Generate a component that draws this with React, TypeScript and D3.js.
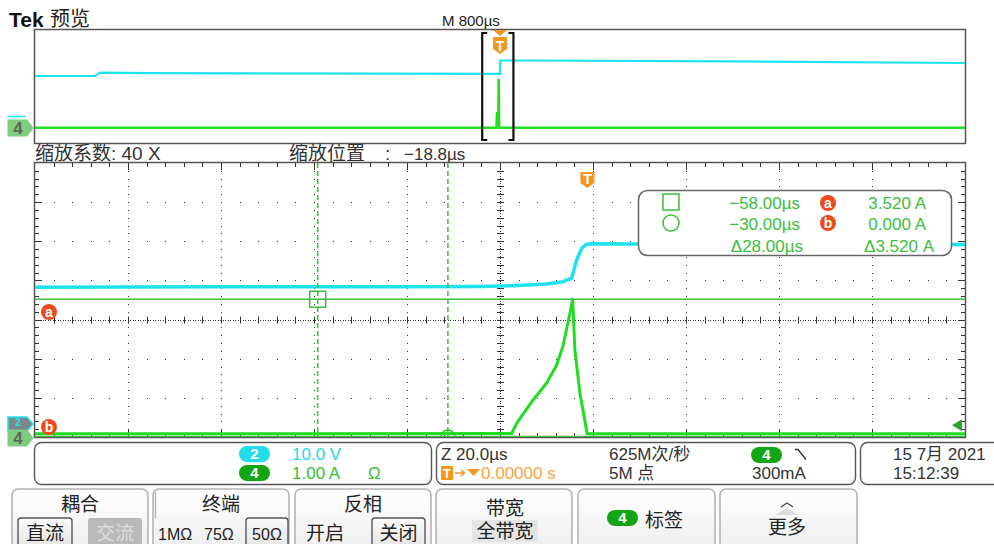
import React from "react";
import * as d3 from "d3";

// zoom window: 20 µs/div, position -18.8 µs (10 div across)
const zoomTimeRange = [-118.8, 81.2];
const ch2ZoomT = [-118.8, -80, -40, -23, -15.9, -8.75, -5.2, -3.4, -2.3, -1.2, -0.15, 1, 20, 50, 81.2];
const ch2ZoomV = [35.2, 35.3, 35.3, 35.4, 35.6, 36.0, 36.6, 37.5, 42.2, 45.2, 46.2, 46.3, 46.2, 46.2, 46.1];
const ch4ZoomT = [-118.8, -16.3, -15.23, -11.72, -8.77, -6.62, -5.27, -4.19, -3.61, -3.18, -2.69, -1.61, -0.04, 81.2];
const ch4ZoomA = [0.08, 0.09, 0.35, 0.94, 1.38, 1.84, 2.32, 2.92, 3.25, 3.52, 2.22, 1.12, 0.08, 0.08];

// overview record: 800 µs/div
const ovTimeRange = [-4000, 4000];
const ch2OvT = [-4000, -3484, -3441, -3000, -1000, -25, 0, 3, 200, 2000, 4000];
const ch2OvV = [33.2, 33.3, 36.1, 35.6, 35.2, 34.9, 34.9, 46.2, 46.2, 45.5, 44.1];
const ch4OvT = [-4000, -30, -26, -14, -11, -7, 4000];
const ch4OvA = [0.02, 0.02, 1.05, 1.05, 3.5, 0.02, 0.02];

// cursors
const cursorT = [-58, -30];
const cursorA = [3.52, 0];
const trigLevelA = 0.3;

const SANS = "'Liberation Sans', Arial, 'Noto Sans CJK SC', sans-serif";
const CJK = "'Noto Sans CJK SC', sans-serif";
const CYAN = "#1fe2ee";
const GREEN = "#22dc22";
const CUR = "#3dbd3d";
const ORANGE = "#f5961e";
const RED = "#ec4a1e";

const PL = 35, PR = 965, PT = 163, PB = 437;
const OT = 29, OB = 143;

const x = d3.scaleLinear().domain(zoomTimeRange).range([PL, PR]);
const yA = d3.scaleLinear().domain([0, 7]).range([PB, PT]);
const yV = d3.scaleLinear().domain([0, 70]).range([425, 425 - (PB - PT)]);
const xOv = d3.scaleLinear().domain(ovTimeRange).range([PL, PR]);
const yOvV = d3.scaleLinear().domain([0, 50]).range([115.5, 115.5 - 59.5]);
const yOvA = d3.scaleLinear().domain([0, 3.5]).range([128, 79]);

const fmt = (v: number, d: number) => (v < 0 ? "\u2212" : "") + Math.abs(v).toFixed(d);

function gridPath() {
  const dx = (PR - PL) / 50;
  const dy = (PB - PT) / 35;
  let d = "";
  const dot = (px: number, py: number) => {
    d += `M${Math.round(px)},${Math.round(py)}h1v1h-1z`;
  };
  for (let i = 1; i < 10; i++) {
    if (i === 5) continue;
    for (let k = 1; k < 35; k++) dot(PL + i * dx * 5, PT + k * dy);
  }
  for (let j = 1; j < 7; j++) {
    if (j === 4) continue;
    for (let k = 1; k < 50; k++) dot(PL + k * dx, PT + j * dy * 5);
  }
  const cy = PT + 4 * dy * 5;
  const cx = PL + 5 * dx * 5;
  for (let px = PL; px < PR; px += 2.5) dot(px, cy);
  for (let py = PT; py < PB; py += 2.5) dot(cx, py);
  let t = "";
  for (let k = 1; k < 50; k++) {
    const px = Math.round(PL + k * dx) + 0.5;
    t += `M${px},${cy - 3}v7`;
    const len = k % 5 === 0 ? 7 : 4;
    t += `M${px},${PT}v${len}M${px},${PB}v${-len}`;
  }
  for (let k = 1; k < 35; k++) {
    const py = Math.round(PT + k * dy) + 0.5;
    t += `M${cx - 3},${py}h7`;
    const len = k % 5 === 0 ? 7 : 4;
    t += `M${PL},${py}h${len}M${PR},${py}h${-len}`;
  }
  return { d, t };
}

const ChMarker = ({ cy, fill, stroke, label, color }: any) => (
  <g>
    <path d={`M8,${cy - 8}h19l6,8l-6,8h-19z`} fill={fill} stroke={stroke} strokeWidth={1} />
    <text x={18} y={cy + 6} textAnchor="middle" fontFamily={SANS} fontSize={17} fontWeight="bold" fill={color}>{label}</text>
  </g>
);

const Badge = ({ cx, cy, label }: any) => (
  <g>
    <circle cx={cx} cy={cy} r={8} fill={RED} />
    <text x={cx} y={cy + 5} textAnchor="middle" fontFamily={SANS} fontSize={14} fontWeight="bold" fill="#fff">{label}</text>
  </g>
);

const Pill = ({ x0, y0, fill, label }: any) => (
  <g>
    <rect x={x0} y={y0} width={31} height={16} rx={8} fill={fill} />
    <text x={x0 + 15.5} y={y0 + 13} textAnchor="middle" fontFamily={SANS} fontSize={15} fontWeight="bold" fill="#fff">{label}</text>
  </g>
);

const Button = ({ x0, w, children }: any) => (
  <g>
    <rect x={x0} y={489} width={w} height={70} rx={6} fill="url(#btnGrad)" stroke="#b4b4b4" strokeWidth={1.6} />
    {children}
  </g>
);

const SubBtn = ({ x0, w, label, on }: any) => (
  <g>
    <rect x={x0} y={518} width={w} height={34} rx={3} fill={on ? "url(#subGrad)" : "#b9b9b9"} stroke={on ? "#555" : "none"} strokeWidth={1.4} />
    <text x={x0 + w / 2} y={540} textAnchor="middle" fontFamily={SANS} fontSize={19} fill={on ? "#222" : "#dcdcdc"}>{label}</text>
  </g>
);

const T = ({ x0, y0, s, fill, anchor, children, weight }: any) => (
  <text x={x0} y={y0} fontFamily={SANS} fontSize={s} fill={fill || "#333"} textAnchor={anchor || "start"} fontWeight={weight || "normal"}>{children}</text>
);

function App() {
  const { d: dots, t: ticks } = gridPath();
  const lineV = d3.line<number>().x((_, i) => x(ch2ZoomT[i])).y((v) => yV(v));
  const lineA = d3.line<number>().x((_, i) => x(ch4ZoomT[i])).y((v) => yA(v));
  const lineOvV = d3.line<number>().x((_, i) => xOv(ch2OvT[i])).y((v) => yOvV(v));
  const lineOvA = d3.line<number>().x((_, i) => xOv(ch4OvT[i])).y((v) => yOvA(v));

  const c1x = x(cursorT[0]), c2x = x(cursorT[1]);
  const caY = yA(cursorA[0]), cbY = yA(cursorA[1]);
  const trigX = x(0);
  const trigY = yA(trigLevelA);
  const ovL = xOv(zoomTimeRange[0]) - 4, ovR = xOv(zoomTimeRange[1]) + 4;
  const ovTrig = xOv(0);

  return (
    <svg width={994} height={544} style={{ position: "absolute", left: 0, top: 0, background: "#fff" }}>
      <defs>
        <linearGradient id="btnGrad" x1="0" y1="0" x2="0" y2="1">
          <stop offset="0" stopColor="#ffffff" />
          <stop offset="1" stopColor="#ebebeb" />
        </linearGradient>
        <linearGradient id="subGrad" x1="0" y1="0" x2="0" y2="1">
          <stop offset="0" stopColor="#fafafa" />
          <stop offset="1" stopColor="#e2e2e2" />
        </linearGradient>
        <clipPath id="mainClip"><rect x={PL} y={PT} width={PR - PL} height={PB - PT} /></clipPath>
        <clipPath id="ovClip"><rect x={PL} y={OT} width={PR - PL} height={OB - OT} /></clipPath>
      </defs>

      {/* header */}
      <text x={9} y={27} fontFamily={SANS} fontSize={21} fontWeight="bold" fill="#111">Tek</text>
      <text x={50} y={26} fontFamily={CJK} fontSize={20} fill="#222">预览</text>
      <T x0={442} y0={26} s={15} fill="#222">M 800µs</T>

      {/* overview */}
      <rect x={34.5} y={OT + 0.5} width={PR - 34} height={OB - OT} fill="#fff" stroke="#555" strokeWidth={1.5} />
      <g clipPath="url(#ovClip)">
        <path d={lineOvV(ch2OvV) || ""} fill="none" stroke={CYAN} strokeWidth={2.2} />
        <path d={lineOvA(ch4OvA) || ""} fill="none" stroke={GREEN} strokeWidth={2.5} />
      </g>
      <path d={`M${ovL + 5},${OT + 4}h-5v${OB - OT - 7}h5M${ovR - 5},${OT + 4}h5v${OB - OT - 7}h-5`} fill="none" stroke="#111" strokeWidth={2.2} />
      <path d={`M${ovTrig - 7},${OT + 1}h14l-7,6z`} fill={ORANGE} />
      <path d={`M${ovTrig - 7},${OT + 8}h14v12l-7,5l-7,-5z`} fill={ORANGE} />
      <text x={ovTrig} y={OT + 22} textAnchor="middle" fontFamily={SANS} fontSize={14} fontWeight="bold" fill="#fff">T</text>
      <path d="M8,116.5h18" stroke={CYAN} strokeWidth={1.5} />
      <ChMarker cy={128} fill="#7fcb7f" stroke="#7fcb7f" label="4" color="#5a6a5a" />

      {/* zoom labels */}
      <text x={35} y={160} fontFamily={SANS} fontSize={19} fill="#333">缩放系数: 40 X</text>
      <text x={289} y={160} fontFamily={SANS} fontSize={19} fill="#333">缩放位置</text>
      <text x={385} y={160} fontFamily={SANS} fontSize={19} fill="#333">:</text>
      <text x={404} y={160} fontFamily={SANS} fontSize={17} fill="#333">−18.8µs</text>

      {/* main window */}
      <rect x={34.5} y={PT - 0.5} width={PR - 34} height={PB - PT + 1} fill="#fff" stroke="#555" strokeWidth={1.5} />
      <path d={dots} fill="#333" />
      <path d={ticks} stroke="#333" strokeWidth={1} fill="none" />

      <g clipPath="url(#mainClip)">
        <path d={lineV(ch2ZoomV) || ""} fill="none" stroke={CYAN} strokeWidth={3.5} strokeLinejoin="round" />
        <path d={lineA(ch4ZoomA) || ""} fill="none" stroke={GREEN} strokeWidth={3} strokeLinejoin="round" />
        {/* cursors */}
        <line x1={PL} x2={PR} y1={caY} y2={caY} stroke={CUR} strokeWidth={1.5} />
        <line x1={PL} x2={PR} y1={cbY - 0.5} y2={cbY - 0.5} stroke={CUR} strokeWidth={1.5} />
        <line x1={c1x} x2={c1x} y1={PT} y2={PB} stroke={CUR} strokeWidth={1.5} strokeDasharray="5,3" />
        <line x1={c2x} x2={c2x} y1={PT} y2={PB} stroke={CUR} strokeWidth={1.5} strokeDasharray="5,3" />
        <rect x={c1x - 8} y={caY - 8} width={16} height={16} fill="none" stroke={CUR} strokeWidth={1.5} />
        <circle cx={c2x} cy={cbY} r={7} fill="none" stroke={CUR} strokeWidth={1.5} />
      </g>
      <Badge cx={49} cy={312} label="a" />
      <Badge cx={49} cy={427} label="b" />
      <path d={`M${PR - 3},${trigY - 6}v12l-10,-6z`} fill="#2aa52a" />
      {/* trigger marker */}
      <path d={`M${trigX - 7},${PT + 9}h14v11l-7,5l-7,-5z`} fill={ORANGE} />
      <text x={trigX} y={PT + 21} textAnchor="middle" fontFamily={SANS} fontSize={14} fontWeight="bold" fill="#fff">T</text>

      {/* channel markers */}
      <path d="M8,417h19l6,7l-6,7h-19z" fill="#7a8a8a" stroke={CYAN} strokeWidth={1.5} />
      <text x={18} y={426} textAnchor="middle" fontFamily={SANS} fontSize={10} fontWeight="bold" fill={CYAN}>2</text>
      <ChMarker cy={438} fill="#7fcb7f" stroke="#7fcb7f" label="4" color="#5a6a5a" />

      {/* cursor readout */}
      <rect x={638.5} y={190.5} width={313} height={65} rx={9} fill="#fff" stroke="#666" strokeWidth={1.5} />
      <rect x={663} y={194} width={16} height={16} fill="none" stroke={CUR} strokeWidth={1.5} />
      <circle cx={671} cy={223} r={8} fill="none" stroke={CUR} strokeWidth={1.5} />
      <T x0={800} y0={209} s={17} fill={CUR} anchor="end">{fmt(cursorT[0], 2)}µs</T>
      <T x0={800} y0={230} s={17} fill={CUR} anchor="end">{fmt(cursorT[1], 2)}µs</T>
      <T x0={803} y0={252} s={17} fill={CUR} anchor="end">Δ{fmt(cursorT[1] - cursorT[0], 2)}µs</T>
      <Badge cx={828} cy={203} label="a" />
      <Badge cx={828} cy={223} label="b" />
      <T x0={926} y0={209} s={17} fill={CUR} anchor="end">{fmt(cursorA[0], 3)} A</T>
      <T x0={926} y0={230} s={17} fill={CUR} anchor="end">{fmt(cursorA[1], 3)} A</T>
      <T x0={934} y0={252} s={17} fill={CUR} anchor="end">Δ{fmt(cursorA[0] - cursorA[1], 3)} A</T>

      {/* info bar */}
      <rect x={34.5} y={442.5} width={397} height={42} rx={7} fill="#fff" stroke="#555" strokeWidth={1.4} />
      <Pill x0={239} y0={446} fill="#22dce8" label="2" />
      <T x0={292} y0={460} s={17} fill="#28d6e4">10.0 V</T>
      <Pill x0={239} y0={465} fill="#13a513" label="4" />
      <T x0={292} y0={479} s={17} fill="#36c036">1.00 A</T>
      <T x0={368} y0={479} s={17} fill="#36c036">Ω</T>

      <rect x={436.5} y={442.5} width={419} height={42} rx={7} fill="#fff" stroke="#555" strokeWidth={1.4} />
      <T x0={441} y0={460} s={17}>Z 20.0µs</T>
      <rect x={441} y={466} width={12} height={14} fill={ORANGE} />
      <text x={447} y={478} textAnchor="middle" fontFamily={SANS} fontSize={12} fontWeight="bold" fill="#fff">T</text>
      <path d="M455,473h9M461,470l3.5,3l-3.5,3" stroke={ORANGE} strokeWidth={1.6} fill="none" />
      <path d="M467,469h13l-6.5,7z" fill={ORANGE} />
      <T x0={481} y0={479} s={17} fill="#f7a540">0.00000 s</T>
      <T x0={609} y0={460} s={17}>625M次/秒</T>
      <T x0={609} y0={479} s={17}>5M 点</T>
      <Pill x0={751} y0={447} fill="#13a513" label="4" />
      <path d="M795,449.5h3l8,10" stroke="#333" strokeWidth={1.4} fill="none" />
      <T x0={752} y0={479} s={17}>300mA</T>

      <rect x={860.5} y={442.5} width={150} height={42} rx={7} fill="#fff" stroke="#555" strokeWidth={1.4} />
      <T x0={893} y0={460} s={17}>15 7月 2021</T>
      <T x0={893} y0={479} s={17}>15:12:39</T>

      {/* soft menu */}
      <Button x0={12} w={136}>
        <T x0={80} y0={511} s={19} anchor="middle" fill="#222">耦合</T>
        <SubBtn x0={18} w={54} label="直流" on />
        <SubBtn x0={88} w={54} label="交流" on={false} />
      </Button>
      <Button x0={153} w={136}>
        <line x1={155.5} x2={155.5} y1={492} y2={518} stroke="#b4b4b4" strokeWidth={1.4} />
        <T x0={221} y0={511} s={19} anchor="middle" fill="#222">终端</T>
        <T x0={158} y0={540} s={16} fill="#222">1MΩ</T>
        <T x0={204} y0={540} s={16} fill="#222">75Ω</T>
        <rect x={246} y={518} width={42} height={34} rx={3} fill="url(#subGrad)" stroke="#555" strokeWidth={1.4} />
        <T x0={267} y0={540} s={16} anchor="middle" fill="#222">50Ω</T>
      </Button>
      <Button x0={295} w={136}>
        <T x0={363} y0={511} s={19} anchor="middle" fill="#222">反相</T>
        <T x0={306} y0={540} s={19} fill="#222">开启</T>
        <SubBtn x0={372} w={53} label="关闭" on />
      </Button>
      <Button x0={436} w={136}>
        <T x0={505} y0={515} s={19} anchor="middle" fill="#222">带宽</T>
        <rect x={472} y={520} width={66} height={22} fill="#e4e4e4" />
        <T x0={505} y0={538} s={19} anchor="middle" fill="#222">全带宽</T>
      </Button>
      <Button x0={578} w={137}>
        <Pill x0={607} y0={510} fill="#13a513" label="4" />
        <T x0={645} y0={527} s={19} fill="#222">标签</T>
      </Button>
      <Button x0={720} w={137}>
        <path d="M781,507l6,-4l6,4" stroke="#444" strokeWidth={1.2} fill="none" />
        <path d="M775,515l12,-7l12,7z" fill="#dcdcdc" />
        <T x0={787} y0={534} s={19} anchor="middle" fill="#222">更多</T>
      </Button>
    </svg>
  );
}

export default App;
